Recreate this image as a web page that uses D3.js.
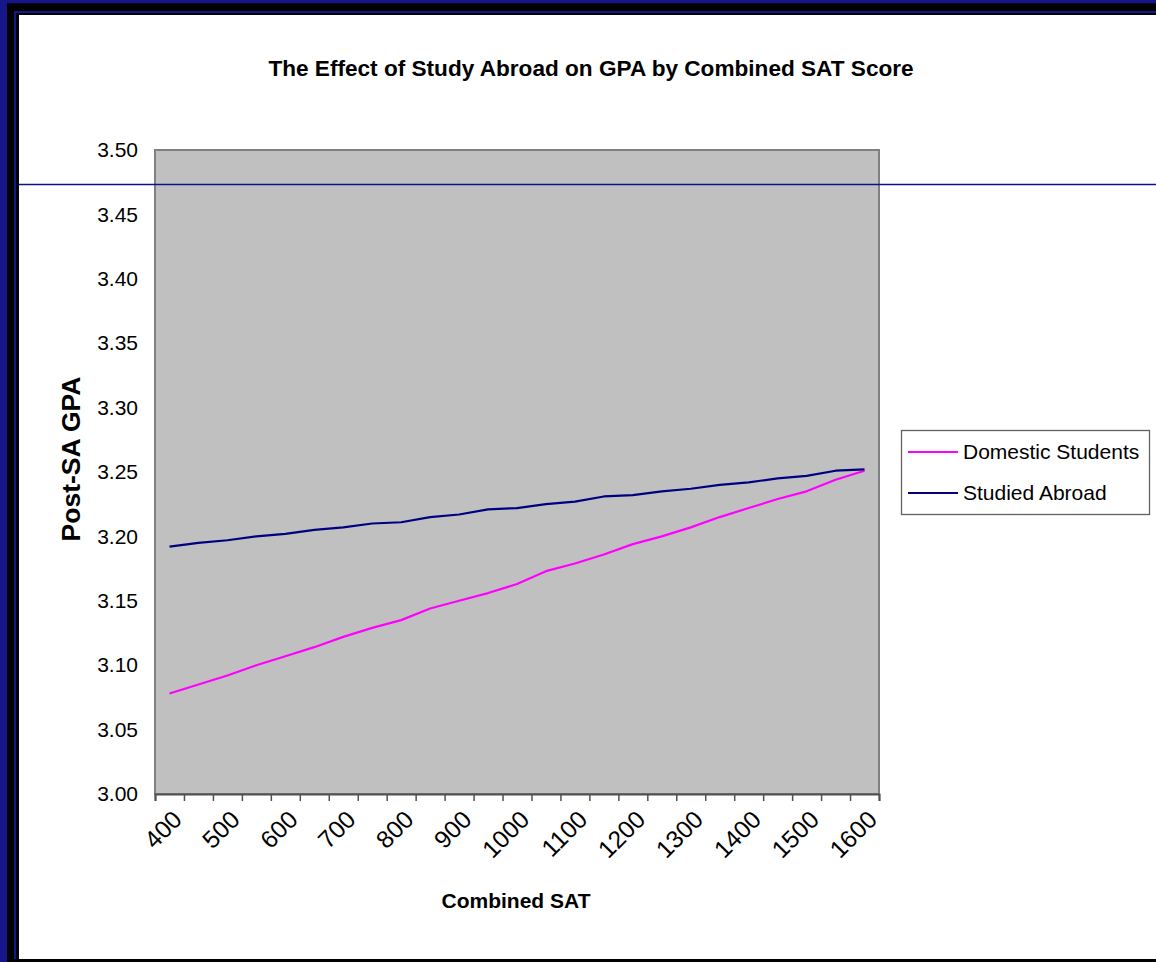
<!DOCTYPE html>
<html>
<head>
<meta charset="utf-8">
<script src="https://cdn.jsdelivr.net/npm/d3@7"></script>
<style>
  html, body { margin: 0; padding: 0; background: #fff; }
  svg { display: block; font-family: Arial, "Liberation Sans", sans-serif; }
</style>
</head>
<body>
<svg id="chart" width="1156" height="962"></svg>
<script>
// Combined SAT score categories (x axis)
const categories = ["400", "450", "500", "550", "600", "650", "700", "750", "800", "850",
  "900", "950", "1000", "1050", "1100", "1150", "1200", "1250", "1300", "1350",
  "1400", "1450", "1500", "1550", "1600"];
// Labels printed under the axis (every other category)
const shownLabels = ["400", "500", "600", "700", "800", "900", "1000", "1100", "1200",
  "1300", "1400", "1500", "1600"];
// Post-study-abroad GPA by combined SAT
const domestic = [3.078, 3.085, 3.092, 3.100, 3.107, 3.114, 3.122, 3.129, 3.135, 3.144,
  3.150, 3.156, 3.163, 3.173, 3.179, 3.186, 3.194, 3.200, 3.207, 3.215,
  3.222, 3.229, 3.235, 3.244, 3.251];
const abroad = [3.192, 3.195, 3.197, 3.200, 3.202, 3.205, 3.207, 3.210, 3.211, 3.215,
  3.217, 3.221, 3.222, 3.225, 3.227, 3.231, 3.232, 3.235, 3.237, 3.240,
  3.242, 3.245, 3.247, 3.251, 3.252];
const yTicks = [3.00, 3.05, 3.10, 3.15, 3.20, 3.25, 3.30, 3.35, 3.40, 3.45, 3.50];
const seriesNames = ["Domestic Students", "Studied Abroad"];
const seriesColors = ["#ff00ff", "#000080"];

const svg = d3.select("#chart");
const W = 1156, H = 962;

// Slide frame
const navy = "#16168a";
svg.append("rect").attr("x", 0).attr("y", 0).attr("width", W).attr("height", H).attr("fill", navy);
svg.append("rect").attr("x", 7).attr("y", 3.3).attr("width", W).attr("height", H).attr("fill", "#000");
svg.append("rect").attr("x", 14).attr("y", 11).attr("width", W).attr("height", 948).attr("fill", navy);
svg.append("rect").attr("x", 16).attr("y", 13).attr("width", W).attr("height", 946).attr("fill", "#000");
svg.append("rect").attr("x", 19).attr("y", 15).attr("width", W).attr("height", 944).attr("fill", "#fff");

// Plot geometry
const plot = { left: 155, right: 879, top: 150, bottom: 794 };

const x = d3.scaleBand().domain(categories).range([plot.left, plot.right]).padding(0);
const xEdges = d3.scaleLinear().domain([0, categories.length]).range([plot.left, plot.right]);
const y = d3.scaleLinear().domain([3.0, 3.5]).range([plot.bottom, plot.top]);

// Plot area
svg.append("rect")
  .attr("x", plot.left).attr("y", plot.top)
  .attr("width", plot.right - plot.left).attr("height", plot.bottom - plot.top)
  .attr("fill", "#c0c0c0").attr("stroke", "#808080").attr("stroke-width", 2);

// Title
svg.append("text")
  .attr("x", 591).attr("y", 76)
  .attr("text-anchor", "middle")
  .attr("font-size", 22.6).attr("font-weight", "bold").attr("fill", "#000")
  .text("The Effect of Study Abroad on GPA by Combined SAT Score");

// Y axis labels
const yAxis = svg.append("g")
  .attr("transform", `translate(${plot.left},0)`)
  .call(d3.axisLeft(y).tickValues(yTicks).tickSize(0).tickPadding(17).tickFormat(d3.format(".2f")));
yAxis.select(".domain").remove();
yAxis.selectAll("text").attr("font-size", 21).attr("fill", "#000").attr("font-family", null);

// X axis tick marks at category boundaries
const xTickAxis = svg.append("g")
  .attr("transform", `translate(0,${plot.bottom})`)
  .call(d3.axisBottom(xEdges).tickValues(d3.range(categories.length + 1)).tickSize(7).tickFormat(""));
xTickAxis.select(".domain").attr("stroke", "#505050").attr("stroke-width", 2);
xTickAxis.selectAll(".tick line").attr("stroke", "#505050").attr("stroke-width", 1.5);

// X axis labels, rotated
const xLabelAxis = svg.append("g")
  .attr("transform", `translate(0,${plot.bottom})`)
  .call(d3.axisBottom(x).tickValues(shownLabels).tickSize(0));
xLabelAxis.select(".domain").remove();
xLabelAxis.selectAll("text")
  .attr("font-size", 24.5).attr("fill", "#000").attr("font-family", null)
  .attr("text-anchor", "end")
  .attr("y", 0).attr("dy", 0)
  .attr("transform", "translate(14,27) rotate(-45)");

// Axis titles
svg.append("text")
  .attr("x", 516).attr("y", 908)
  .attr("text-anchor", "middle")
  .attr("font-size", 21).attr("font-weight", "bold")
  .text("Combined SAT");
svg.append("text")
  .attr("transform", "translate(80,459) rotate(-90)")
  .attr("text-anchor", "middle")
  .attr("font-size", 26.5).attr("font-weight", "bold")
  .text("Post-SA GPA");

// Series lines
const line = d3.line()
  .x((d, i) => x(categories[i]) + x.bandwidth() / 2)
  .y(d => y(d));
[domestic, abroad].forEach((s, k) => {
  svg.append("path")
    .datum(s)
    .attr("d", line)
    .attr("fill", "none")
    .attr("stroke", seriesColors[k])
    .attr("stroke-width", 2.2)
    .attr("stroke-linejoin", "round");
});

// Legend
const legend = svg.append("g");
legend.append("rect")
  .attr("x", 901.5).attr("y", 430.5).attr("width", 248).attr("height", 84)
  .attr("fill", "#fff").attr("stroke", "#606060").attr("stroke-width", 1.3);
seriesNames.forEach((name, k) => {
  const ly = 452 + k * 41;
  legend.append("line")
    .attr("x1", 908).attr("x2", 958).attr("y1", ly).attr("y2", ly)
    .attr("stroke", seriesColors[k]).attr("stroke-width", 2);
  legend.append("text")
    .attr("x", 963).attr("y", ly).attr("dy", "0.35em")
    .attr("font-size", 21).attr("fill", "#000")
    .text(name);
});

// Horizontal rule across the slide
svg.append("line")
  .attr("x1", 19).attr("x2", W).attr("y1", 184.5).attr("y2", 184.5)
  .attr("stroke", "#10108a").attr("stroke-width", 1.3);
</script>
</body>
</html>
